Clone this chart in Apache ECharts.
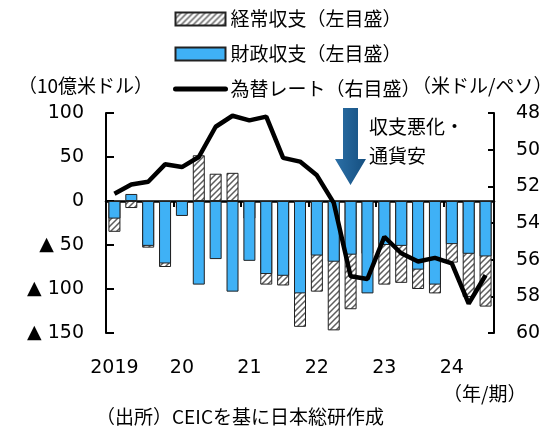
<!DOCTYPE html>
<html>
<head>
<meta charset="utf-8">
<script src="https://cdn.jsdelivr.net/npm/echarts@6/dist/echarts.min.js"></script>
<style>
  html, body { margin: 0; padding: 0; background: #fff; }
  #chart { width: 555px; height: 429px; }
</style>
</head>
<body>
<div id="chart"></div>
<script>
// 四半期 2019Q1〜2024Q3
const quarters = [
  '2019Q1', '2019Q2', '2019Q3', '2019Q4',
  '2020Q1', '2020Q2', '2020Q3', '2020Q4',
  '2021Q1', '2021Q2', '2021Q3', '2021Q4',
  '2022Q1', '2022Q2', '2022Q3', '2022Q4',
  '2023Q1', '2023Q2', '2023Q3', '2023Q4',
  '2024Q1', '2024Q2', '2024Q3'
];
const yearLabels = ['2019', '20', '21', '22', '23', '24'];
// 経常収支（10億米ドル）
const currentAccount = [-35, -8, -53, -75, -8, 52, 31, 32, -20, -95, -96, -143,
  -103, -147, -123, -60, -95, -93, -100, -105, -70, -109, -120];
// 財政収支（10億米ドル）
const fiscalBalance = [-20, 8, -51, -71, -17, -95, -66, -103, -68, -83, -85, -105,
  -62, -69, -61, -105, -50, -51, -78, -95, -49, -60, -63];
// 為替レート（米ドル/ペソ）
const fxRate = [52.4, 51.9, 51.75, 50.8, 50.95, 50.4, 48.75, 48.15, 48.4, 48.2, 50.45, 50.65,
  51.4, 52.9, 56.9, 57.05, 54.75, 55.65, 56.1, 55.9, 56.2, 58.4, 56.85];

const numFont = "'DejaVu Sans', 'Noto Sans CJK JP', sans-serif";
const jpFont = "'Noto Sans CJK JP', sans-serif";

// 斜線ハッチ
const hatch = document.createElement('canvas');
hatch.width = 6;
hatch.height = 6;
const hc = hatch.getContext('2d');
hc.fillStyle = '#fff';
hc.fillRect(0, 0, 6, 6);
hc.strokeStyle = '#5e5e5e';
hc.lineWidth = 1.5;
hc.beginPath();
hc.moveTo(0, 6); hc.lineTo(6, 0);
hc.moveTo(-1, 1); hc.lineTo(1, -1);
hc.moveTo(5, 7); hc.lineTo(7, 5);
hc.stroke();

const chart = echarts.init(document.getElementById('chart'));
chart.setOption({
  animation: false,
  legend: {
    orient: 'vertical',
    left: 173,
    top: 9,
    padding: 0,
    itemWidth: 50,
    itemHeight: 13,
    itemGap: 15,
    textStyle: { fontFamily: jpFont, fontSize: 19, color: '#000', lineHeight: 20 },
    data: [
      { name: '経常収支（左目盛）', icon: 'rect' },
      { name: '財政収支（左目盛）', icon: 'rect' },
      {
        name: '為替レート（右目盛）',
        itemStyle: { opacity: 0 },
        lineStyle: { width: 5, cap: 'round', color: '#000' }
      }
    ]
  },
  grid: { left: 106, right: 61, top: 113, bottom: 96 },
  xAxis: [
    {
      type: 'category',
      data: quarters,
      axisLine: { onZero: true, lineStyle: { color: '#000', width: 2.5 } },
      axisTick: { show: true, interval: 3, length: 6, lineStyle: { color: '#000', width: 2 } },
      axisLabel: { show: false }
    },
    {
      type: 'category',
      data: quarters,
      position: 'bottom',
      axisLine: { show: false, onZero: false },
      axisTick: { show: false },
      axisLabel: {
        interval: 3,
        margin: 26,
        fontFamily: numFont,
        fontSize: 19,
        color: '#000',
        formatter: (v, i) => yearLabels[i / 4]
      }
    }
  ],
  yAxis: [
    {
      type: 'value',
      min: -150,
      max: 100,
      interval: 50,
      splitLine: { show: false },
      axisLine: { show: true, lineStyle: { color: '#000', width: 2 } },
      axisTick: { show: true, inside: true, length: 8, lineStyle: { color: '#000', width: 2 } },
      axisLabel: {
        margin: 22,
        fontFamily: numFont,
        fontSize: 19,
        color: '#000',
        formatter: v => (v < 0 ? '▲ ' + (-v) : String(v))
      }
    },
    {
      type: 'value',
      min: 48,
      max: 60,
      interval: 2,
      inverse: true,
      position: 'right',
      splitLine: { show: false },
      axisLine: { show: true, lineStyle: { color: '#000', width: 2 } },
      axisTick: { show: true, inside: true, length: 6, lineStyle: { color: '#000', width: 2 } },
      axisLabel: { margin: 22, fontFamily: numFont, fontSize: 19, color: '#000' }
    }
  ],
  series: [
    {
      name: '経常収支（左目盛）',
      type: 'bar',
      barWidth: 12,
      barGap: '-100%',
      data: currentAccount,
      itemStyle: { color: { image: hatch, repeat: 'repeat' }, borderColor: '#222', borderWidth: 1 }
    },
    {
      name: '財政収支（左目盛）',
      type: 'bar',
      barWidth: 12,
      data: fiscalBalance,
      itemStyle: { color: '#3fb1f6', borderColor: '#222', borderWidth: 1 }
    },
    {
      name: '為替レート（右目盛）',
      type: 'line',
      yAxisIndex: 1,
      data: fxRate,
      symbol: 'none',
      lineStyle: { color: '#000', width: 4.5 },
      itemStyle: { color: '#000' },
      z: 5
    }
  ],
  graphic: [
    { type: 'text', left: 18, top: 76, style: { text: '（10億米ドル）', font: "19px 'Noto Sans CJK JP'", fill: '#000' } },
    { type: 'text', left: 412, top: 76, style: { text: '（米ドル/ペソ）', font: "19px 'Noto Sans CJK JP'", fill: '#000' } },
    { type: 'text', left: 443, top: 384, style: { text: '（年/期）', font: "19px 'Noto Sans CJK JP'", fill: '#000' } },
    { type: 'text', left: 96, top: 407, style: { text: '（出所）CEICを基に日本総研作成', font: "19px 'Noto Sans CJK JP'", fill: '#000' } },
    { type: 'text', left: 369, top: 117, style: { text: '収支悪化・', font: "19px 'Noto Sans CJK JP'", fill: '#000' } },
    { type: 'text', left: 369, top: 146, style: { text: '通貨安', font: "19px 'Noto Sans CJK JP'", fill: '#000' } },
    {
      type: 'polygon',
      shape: { points: [[343, 108], [358, 108], [358, 159], [366, 159], [350.5, 185], [335, 159], [343, 159]] },
      style: {
        fill: new echarts.graphic.LinearGradient(0, 0, 1, 0, [
          { offset: 0, color: '#2b6fa6' },
          { offset: 1, color: '#154f80' }
        ])
      }
    }
  ]
});
</script>
</body>
</html>
